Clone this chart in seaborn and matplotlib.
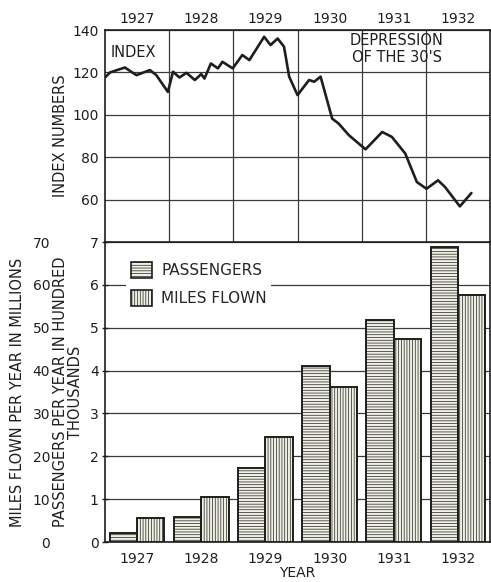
import pandas as pd
import matplotlib
matplotlib.use('Agg')
import matplotlib.pyplot as plt
from matplotlib.patches import Patch
import seaborn as sns

# index curve (decimal year, index number)
idx_time = [1927.0, 1927.08, 1927.31, 1927.49, 1927.70, 1927.80, 1927.98, 1928.06,
            1928.16, 1928.27, 1928.40, 1928.50, 1928.55, 1928.65, 1928.76, 1928.83,
            1928.99, 1929.14, 1929.25, 1929.48, 1929.58, 1929.69, 1929.79, 1929.87,
            1930.0, 1930.18, 1930.26, 1930.36, 1930.54, 1930.64, 1930.80, 1931.06,
            1931.32, 1931.47, 1931.68, 1931.86, 1932.01, 1932.19, 1932.30, 1932.53,
            1932.71]
idx_value = [117.6, 120.0, 122.3, 118.7, 121.1, 118.7, 110.8, 120.3,
             117.6, 119.8, 116.4, 119.2, 117.1, 124.2, 121.9, 125.0,
             121.9, 128.2, 125.8, 136.8, 132.9, 136.0, 132.1, 118.0,
             109.3, 116.4, 115.6, 118.0, 98.2, 95.9, 90.4, 83.7,
             91.9, 89.6, 81.7, 68.3, 65.1, 69.1, 65.9, 56.8,
             63.1]

years = ['1927', '1928', '1929', '1930', '1931', '1932']
passengers = [0.2, 0.58, 1.72, 4.1, 5.17, 6.88]   # hundred thousands
miles_flown = [5.7, 10.5, 24.5, 36.2, 47.3, 57.6]  # millions

sns.set_style('white')
plt.rcParams['font.family'] = ['DejaVu Sans']
plt.rcParams['hatch.linewidth'] = 0.5

ink = '#1e1e1e'
grid = '#3a3a3a'
fill = '#f1f0e4'

fig = plt.figure(figsize=(4.91, 5.82), dpi=100)
ax_top = fig.add_axes([105 / 491, 340 / 582, 385 / 491, 212 / 582])
ax_bar = fig.add_axes([105 / 491, 40 / 582, 385 / 491, 300 / 582])

# ---- top panel: index line
line_df = pd.DataFrame({'t': idx_time, 'v': idx_value})
sns.lineplot(data=line_df, x='t', y='v', ax=ax_top, color=ink, linewidth=1.9)
ax_top.set_xlim(1927, 1933)
ax_top.set_ylim(40, 140)
ax_top.set_yticks([60, 80, 100, 120, 140])
ax_top.set_xticks([1928, 1929, 1930, 1931, 1932])
ax_top.grid(True, color=grid, linewidth=0.9)
ax_top.tick_params(axis='x', bottom=False, labelbottom=False)
ax_top.tick_params(axis='y', direction='inout', length=5, width=1, pad=2,
                   labelsize=10, colors=ink)
ax_top.set_xlabel('')
ax_top.set_ylabel('INDEX NUMBERS', fontsize=10.5, color=ink)
ax_top.yaxis.set_label_coords(-0.096, 0.5)
for yr in years:
    ax_top.text(int(yr) + 0.5, 142, yr, ha='center', va='bottom', fontsize=10, color=ink)
ax_top.text(1927.08, 129.5, 'INDEX', fontsize=10.5, color=ink, va='center')
ax_top.text(1931.55, 131, "DEPRESSION\nOF THE 30'S", fontsize=10.5, color=ink,
            ha='center', va='center', linespacing=1.1)
for s in ax_top.spines.values():
    s.set_color(ink)
    s.set_linewidth(1.2)
ax_top.spines['bottom'].set_visible(False)

# ---- bottom panel: bars
bar_df = pd.DataFrame({
    'year': years * 2,
    'series': ['PASSENGERS'] * 6 + ['MILES FLOWN'] * 6,
    'value': passengers + [m / 10 for m in miles_flown],
})
sns.barplot(data=bar_df, x='year', y='value', hue='series', ax=ax_bar,
            width=0.85, legend=False, saturation=1)
hatches = ['------', '||||||']
for cont, h in zip(ax_bar.containers, hatches):
    for p in cont:
        p.set_facecolor(fill)
        p.set_edgecolor(ink)
        p.set_linewidth(1.4)
        p.set_hatch(h)
        p.set_zorder(3)
ax_bar.set_xlim(-0.5, 5.5)
ax_bar.set_ylim(0, 7)
ax_bar.set_yticks(range(8))
ax_bar.grid(True, axis='y', color=grid, linewidth=0.9, zorder=0)
ax_bar.set_axisbelow(True)
ax_bar.tick_params(axis='y', direction='inout', length=5, width=1, pad=2,
                   labelsize=10, colors=ink)
ax_bar.tick_params(axis='x', length=0, pad=7, labelsize=10, colors=ink)
ax_bar.set_xlabel('YEAR', fontsize=10, color=ink, labelpad=0)
ax_bar.set_ylabel('PASSENGERS PER YEAR IN HUNDRED\nTHOUSANDS', fontsize=10.5,
                  color=ink, linespacing=1.0)
ax_bar.yaxis.set_label_coords(-0.057, 0.5)
for s in ax_bar.spines.values():
    s.set_color(ink)
    s.set_linewidth(1.2)

# outer miles axis
ax_miles = ax_bar.twinx()
ax_miles.set_ylim(0, 70)
ax_miles.set_yticks(range(0, 71, 10))
ax_miles.yaxis.set_ticks_position('left')
ax_miles.yaxis.set_label_position('left')
ax_miles.spines['left'].set_position(('axes', -0.135))
for s in ax_miles.spines.values():
    s.set_visible(False)
ax_miles.tick_params(axis='y', length=0, pad=2, labelsize=10, colors=ink)
ax_miles.set_ylabel('MILES FLOWN PER YEAR IN MILLIONS', fontsize=10.5, color=ink)
ax_miles.yaxis.set_label_coords(-0.208, 0.5)

handles = [Patch(facecolor=fill, edgecolor=ink, hatch=h, linewidth=1.2) for h in hatches]
leg = ax_bar.legend(handles, ['PASSENGERS', 'MILES FLOWN'], loc='upper left',
                    bbox_to_anchor=(0.035, 0.975), fontsize=11, frameon=True,
                    handlelength=1.4, handleheight=1.3, labelspacing=0.75,
                    handletextpad=0.6, borderpad=0.3)
leg.get_frame().set_facecolor('white')
leg.get_frame().set_edgecolor('none')
leg.get_frame().set_alpha(1)
leg.set_zorder(5)

plt.savefig('out.png', dpi=100)
